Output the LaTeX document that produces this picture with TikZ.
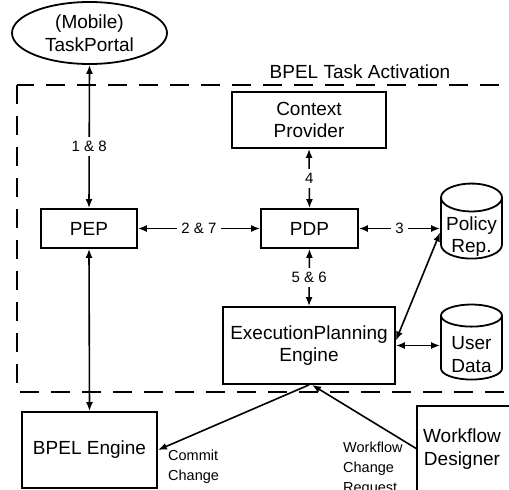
\documentclass[tikz,border=0pt]{standalone}
\usepackage{fontspec}
\setmainfont{Liberation Sans}
\usetikzlibrary{arrows.meta,shapes.geometric}
% two lines of a store label, set lower in the body of the cylinder
\newcommand{\dbtext}[2]{\raisebox{-13pt}[12pt][12pt]{\begin{tabular}{@{}c@{}}#1\\#2\end{tabular}}}

\begin{document}
\begin{tikzpicture}[x=1pt,y=-1pt,
  every node/.append style={font=\fontsize{19pt}{22.5pt}\selectfont,align=center},
  box/.style={draw,line width=1.8pt,inner sep=0pt},
  store/.style={draw,line width=1.8pt,cylinder,shape border rotate=90,aspect=0.55,
    minimum width=61pt,minimum height=75pt,inner sep=0pt},
  link/.style={{Latex[length=9pt,width=7pt]}-{Latex[length=9pt,width=7pt]},line width=1.6pt},
  oneway/.style={-{Latex[length=9pt,width=7pt]},line width=1.6pt},
  seqno/.style={fill=white,inner sep=4pt,font=\fontsize{15pt}{18pt}\selectfont},
  note/.style={align=left,inner sep=0pt,font=\fontsize{14.5pt}{20pt}\selectfont}]
\useasboundingbox (0,0) rectangle (509,490);

% activation frame
\draw[line width=2.2pt,dash pattern=on 19pt off 12pt] (17,85) rectangle (540,392);
\node (frame) at (360,72) {BPEL Task Activation};

% components
\node[draw,line width=1.8pt,ellipse,minimum width=155pt,minimum height=62pt,inner sep=0pt]
  (portal) at (89.5,33) {(Mobile)\\TaskPortal};
\node[box,minimum width=96pt,minimum height=39pt] (pep) at (89,228.5) {PEP};
\node[box,minimum width=97pt,minimum height=39pt] (pdp) at (309.5,228.5) {PDP};
\node[box,minimum width=154pt,minimum height=56pt] (ctx) at (309,120) {Context\\Provider};
\node[box,minimum width=172pt,minimum height=77pt] (epe) at (309,345.5) {ExecutionPlanning\\Engine};
\node[box,minimum width=135pt,minimum height=76pt] (bpel) at (89.5,450) {BPEL Engine};
\node[store] (policy) at (471.5,228.5) {\dbtext{Policy}{Rep.}};
\node[store] (user) at (471.5,348) {\dbtext{User}{Data}};
\draw[line width=1.8pt] (417,520) |- (540,406);
\node (wd) at (462,449) {Workflow\\Designer};

% message flow
\draw[link] (pep.north) -- node[seqno,pos=0.43]{1 \& 8} (portal.south);
\draw[link] (pep.east) -- node[seqno]{2 \& 7} (pdp.west);
\draw[link] (pdp.north) -- node[seqno]{4} (ctx.south);
\draw[link] (pdp.south) -- node[seqno]{5 \& 6} (epe.north);
\draw[link] (pdp.east) -- node[seqno]{3} (pdp.east -| policy.west);
\draw[link] ([yshift=5pt]epe.east) -- ([yshift=-4pt]policy.west);
\draw[link] (epe.east) -- (epe.east -| user.west);
\draw[link] (pep.south) -- (bpel.north);
\draw[oneway] (epe.south) -- (bpel.east);
\draw[oneway] (wd.west -| 417,0) -- ([xshift=3pt]epe.south);
\node[note,anchor=north west] (commit) at (168,450) {Commit\\Change};
\node[note,anchor=north west] (request) at (343,442) {Workflow\\Change\\Request};
\end{tikzpicture}
\end{document}
